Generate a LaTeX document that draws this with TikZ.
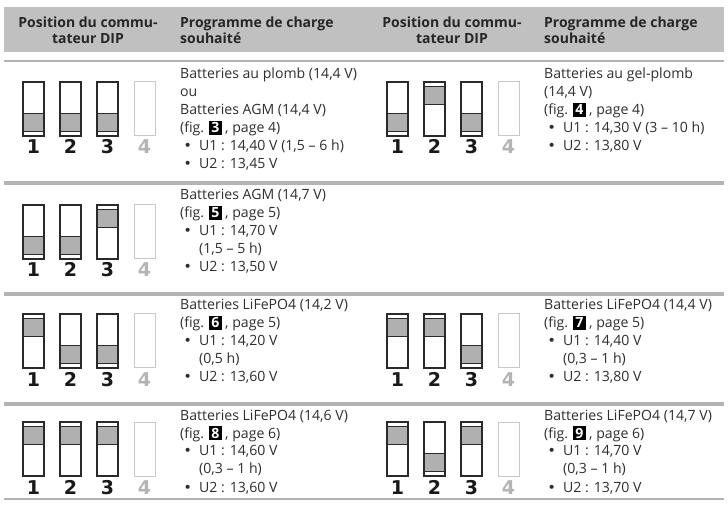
\documentclass[tikz,border=0pt]{standalone}
\usepackage{fontspec}
\setmainfont{Open Sans}
\newfontfamily\digfont{DejaVu Sans}
\definecolor{txt}{HTML}{2E2E2E}
\definecolor{hdrbg}{HTML}{C0C0C0}
\definecolor{sepc}{HTML}{B3B3B3}
\definecolor{knob}{HTML}{B0B0B0}
\definecolor{swline}{HTML}{2A2A2A}
\definecolor{light}{HTML}{C8C8C8}
\definecolor{lightdig}{HTML}{B4B4B4}
\newcommand\figbox[1]{{\setlength\fboxsep{2.2pt}\colorbox{black}{\textcolor{white}{\bfseries #1}}}}
\newcommand\blt{\hspace*{3.5pt}\makebox[15.5pt][l]{{\digfont\fontsize{14}{14}\selectfont •}}}
\newcommand\cnt{\hspace*{19pt}}
\newcommand\dsw[3]{%
  \ifnum#3=1
    \filldraw[knobst] (#1,#2+4.5) rectangle (#1+21,#2+22.5);
  \else
    \filldraw[knobst] (#1,#2+31.5) rectangle (#1+21,#2+49.5);
  \fi
  \draw[swst] (#1,#2) rectangle (#1+21,#2+54);}
\newcommand\dswoff[2]{\draw[swoff] (#1,#2) rectangle (#1+21,#2+54);}
\newcommand\digits[3]{% prefix, x0, y0
  \node[dig] (#1d1) at (#2+10.5,#3+72) {1};
  \node[dig] (#1d2) at (#2+47.5,#3+72) {2};
  \node[dig] (#1d3) at (#2+84.5,#3+72) {3};
  \node[dig,text=lightdig] (#1d4) at (#2+121.5,#3+72) {4};
  \dswoff{#2+111}{#3}}
\begin{document}
\begin{tikzpicture}[x=1pt,y=-1pt,
  body/.style={anchor=base west,inner sep=0pt,text=txt,font=\fontsize{14.1}{18}\selectfont},
  hdr/.style={anchor=base,inner sep=0pt,text=black!85,font=\fontsize{14}{16}\selectfont\bfseries},
  hdrl/.style={hdr,anchor=base west},
  dig/.style={anchor=base,inner sep=0pt,text=black!90,font=\fontsize{19}{19}\selectfont\digfont\bfseries},
  knobst/.style={fill=knob,draw=swline,line width=1.1pt},
  swst/.style={draw=swline,line width=1.1pt},
  swoff/.style={draw=light,line width=1pt},
  thinsep/.style={draw=sepc,line width=1.5pt},
  thicksep/.style={draw=sepc,line width=3.5pt}]
\useasboundingbox (0,0) rectangle (728,510);
% header
\fill[hdrbg] (4,7) rectangle (724,52);
\node[hdr] (h1) at (88,28) {\begin{tabular}[t]{@{}c@{}}Position du commu-\\tateur DIP\end{tabular}};
\node[hdrl] (h2) at (180,28) {\begin{tabular}[t]{@{}l@{}}Programme de charge\\souhaité\end{tabular}};
\node[hdr] (h3) at (452,28) {\begin{tabular}[t]{@{}c@{}}Position du commu-\\tateur DIP\end{tabular}};
\node[hdrl] (h4) at (544,28) {\begin{tabular}[t]{@{}l@{}}Programme de charge\\souhaité\end{tabular}};
% separators
\draw[thinsep] (4,61) -- (724,61);
\draw[thicksep] (4,183) -- (724,183);
\draw[thicksep] (4,294) -- (724,294);
\draw[thicksep] (4,404) -- (724,404);
\draw[thinsep] (4,499) -- (724,499);
% row 1 left
\dsw{23}{82}{0}\dsw{60}{82}{0}\dsw{97}{82}{0}
\digits{a}{23}{82}
\node[body] (t1l) at (180,79) {\begin{tabular}[t]{@{}l@{}}Batteries au plomb (14,4 V)\\ou\\Batteries AGM (14,4 V)\\(fig. \figbox{3}\ , page 4)\\\blt U1 : 14,40 V (1,5 – 6 h)\\\blt U2 : 13,45 V\end{tabular}};
% row 1 right
\dsw{387}{82}{0}\dsw{424}{82}{1}\dsw{461}{82}{0}
\digits{b}{387}{82}
\node[body] (t1r) at (544,79) {\begin{tabular}[t]{@{}l@{}}Batteries au gel-plomb\\(14,4 V)\\(fig. \figbox{4}\ , page 4)\\\blt U1 : 14,30 V (3 – 10 h)\\\blt U2 : 13,80 V\end{tabular}};
% row 2 left
\dsw{23}{205}{0}\dsw{60}{205}{0}\dsw{97}{205}{1}
\digits{c}{23}{205}
\node[body] (t2l) at (180,200) {\begin{tabular}[t]{@{}l@{}}Batteries AGM (14,7 V)\\(fig. \figbox{5}\ , page 5)\\\blt U1 : 14,70 V\\\cnt(1,5 – 5 h)\\\blt U2 : 13,50 V\end{tabular}};
% row 3 left
\dsw{23}{314}{1}\dsw{60}{314}{0}\dsw{97}{314}{0}
\digits{d}{23}{314}
\node[body] (t3l) at (180,310) {\begin{tabular}[t]{@{}l@{}}Batteries LiFePO4 (14,2 V)\\(fig. \figbox{6}\ , page 5)\\\blt U1 : 14,20 V\\\cnt(0,5 h)\\\blt U2 : 13,60 V\end{tabular}};
% row 3 right
\dsw{387}{314}{1}\dsw{424}{314}{1}\dsw{461}{314}{0}
\digits{e}{387}{314}
\node[body] (t3r) at (544,310) {\begin{tabular}[t]{@{}l@{}}Batteries LiFePO4 (14,4 V)\\(fig. \figbox{7}\ , page 5)\\\blt U1 : 14,40 V\\\cnt(0,3 – 1 h)\\\blt U2 : 13,80 V\end{tabular}};
% row 4 left
\dsw{23}{422}{1}\dsw{60}{422}{1}\dsw{97}{422}{1}
\digits{f}{23}{422}
\node[body] (t4l) at (180,420) {\begin{tabular}[t]{@{}l@{}}Batteries LiFePO4 (14,6 V)\\(fig. \figbox{8}\ , page 6)\\\blt U1 : 14,60 V\\\cnt(0,3 – 1 h)\\\blt U2 : 13,60 V\end{tabular}};
% row 4 right
\dsw{387}{422}{1}\dsw{424}{422}{0}\dsw{461}{422}{1}
\digits{g}{387}{422}
\node[body] (t4r) at (544,420) {\begin{tabular}[t]{@{}l@{}}Batteries LiFePO4 (14,7 V)\\(fig. \figbox{9}\ , page 6)\\\blt U1 : 14,70 V\\\cnt(0,3 – 1 h)\\\blt U2 : 13,70 V\end{tabular}};
\end{tikzpicture}
\end{document}
